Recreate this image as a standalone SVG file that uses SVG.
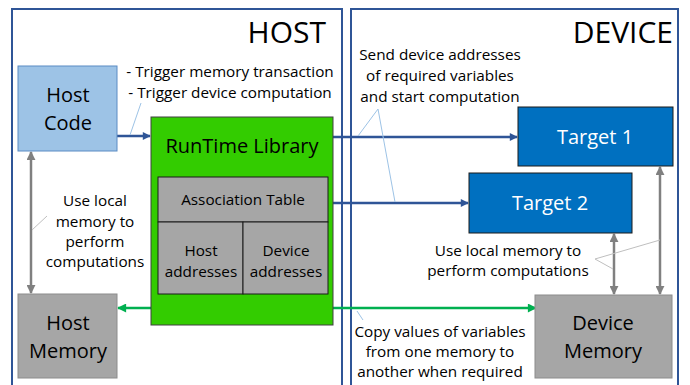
<svg xmlns="http://www.w3.org/2000/svg" width="690" height="385" viewBox="0 0 690 385">
<defs>
<style>
text{font-family:"Open Sans","Liberation Sans",sans-serif;fill:#000;text-anchor:middle}
.frame{fill:none;stroke:#2F5597;stroke-width:2}
.big{font-size:30px;text-anchor:end}
.n20{font-size:20px}
.t15{font-size:15.3px}
.white{fill:#fff}
.blue{stroke:#2F5597;stroke-width:2.5;fill:none}
.gray{stroke:#808080;stroke-width:2.5;fill:none}
.green{stroke:#00B050;stroke-width:2.5;fill:none}
.lead{stroke:#9DC3E6;stroke-width:1;fill:none}
.leadg{stroke:#BFBFBF;stroke-width:1;fill:none}
</style>
<marker id="ab" viewBox="0 0 10 10" refX="9" refY="5" markerWidth="10" markerHeight="8" markerUnits="userSpaceOnUse" orient="auto-start-reverse"><path d="M0,0L10,5L0,10z" fill="#2F5597"/></marker>
<marker id="ag" viewBox="0 0 10 10" refX="9" refY="5" markerWidth="9" markerHeight="9" markerUnits="userSpaceOnUse" orient="auto-start-reverse"><path d="M0,0L10,5L0,10z" fill="#808080"/></marker>
<marker id="agr" viewBox="0 0 10 10" refX="9" refY="5" markerWidth="10" markerHeight="9" markerUnits="userSpaceOnUse" orient="auto-start-reverse"><path d="M0,0L10,5L0,10z" fill="#00B050"/></marker>
</defs>
<rect width="690" height="385" fill="#fff"/>
<g id="host-frame">
<rect class="frame" x="12" y="9" width="330" height="400"/>
<text class="big" x="326" y="43">HOST</text>
</g>
<g id="device-frame">
<rect class="frame" x="351" y="9" width="327" height="400"/>
<text class="big" x="673" y="43">DEVICE</text>
</g>
<g id="connectors">
<line class="blue" x1="117" y1="136" x2="150" y2="136" marker-end="url(#ab)"/>
<line class="blue" x1="333" y1="137" x2="517" y2="137" marker-end="url(#ab)"/>
<line class="blue" x1="328" y1="203" x2="468" y2="203" marker-end="url(#ab)"/>
<line class="gray" x1="31" y1="152" x2="31" y2="293" marker-start="url(#ag)" marker-end="url(#ag)"/>
<line class="gray" x1="614" y1="234" x2="614" y2="294" marker-start="url(#ag)" marker-end="url(#ag)"/>
<line class="gray" x1="660" y1="167" x2="660" y2="294" marker-start="url(#ag)" marker-end="url(#ag)"/>
<line class="green" x1="118" y1="308" x2="536" y2="308" marker-start="url(#agr)" marker-end="url(#agr)"/>
<path class="lead" d="M141,103L130,135"/>
<path class="lead" d="M358,136L378,109L395,202"/>
<path class="leadg" d="M47,216L32,230"/>
<path class="leadg" d="M660,240L595,259L613,269"/>
<path class="lead" d="M357,311L363,320" stroke="#00B050"/>
</g>
<g id="host-code">
<rect x="18" y="66" width="99" height="85" fill="#9DC3E6" stroke="#5B8BC4" stroke-width="1"/>
<text class="n20" x="68" y="102">Host</text>
<text class="n20" x="68" y="130">Code</text>
</g>
<g id="host-memory">
<rect x="18" y="294" width="99" height="84" fill="#A6A6A6" stroke="#8C8C8C" stroke-width="1"/>
<text class="n20" x="68" y="330">Host</text>
<text class="n20" x="68" y="358">Memory</text>
</g>
<g id="runtime-library">
<rect x="151" y="117" width="182" height="208" fill="#33CC00" stroke="#404040" stroke-width="1"/>
<text class="n20" x="242" y="153">RunTime Library</text>
</g>
<g id="association-table">
<rect x="158" y="177" width="170" height="45" fill="#A6A6A6" stroke="#1A1A1A" stroke-width="1"/>
<text class="t15" x="243" y="205">Association Table</text>
</g>
<g id="host-addresses">
<rect x="158" y="222" width="85" height="72" fill="#A6A6A6" stroke="#1A1A1A" stroke-width="1"/>
<text class="t15" x="201" y="256">Host</text>
<text class="t15" x="201" y="277">addresses</text>
</g>
<g id="device-addresses">
<rect x="243" y="222" width="85" height="72" fill="#A6A6A6" stroke="#1A1A1A" stroke-width="1"/>
<text class="t15" x="286" y="256">Device</text>
<text class="t15" x="286" y="277">addresses</text>
</g>
<g id="target-1">
<rect x="518" y="107" width="155" height="59" fill="#0070C0" stroke="#1A1A1A" stroke-width="1"/>
<text class="n20 white" x="595" y="144">Target 1</text>
</g>
<g id="target-2">
<rect x="469" y="173" width="163" height="60" fill="#0070C0" stroke="#1A1A1A" stroke-width="1"/>
<text class="n20 white" x="550" y="210">Target 2</text>
</g>
<g id="device-memory">
<rect x="535" y="295" width="137" height="83" fill="#A6A6A6" stroke="#8C8C8C" stroke-width="1"/>
<text class="n20" x="603" y="330">Device</text>
<text class="n20" x="603" y="358">Memory</text>
</g>
<g id="labels">
<text class="t15" x="230" y="77">- Trigger memory transaction</text>
<text class="t15" x="230" y="98">- Trigger device computation</text>
<text class="t15" x="95" y="206">Use local</text>
<text class="t15" x="95" y="227">memory to</text>
<text class="t15" x="95" y="247">perform</text>
<text class="t15" x="95" y="267">computations</text>
<text class="t15" x="440" y="60">Send device addresses</text>
<text class="t15" x="440" y="81">of required variables</text>
<text class="t15" x="440" y="102">and start computation</text>
<text class="t15" x="508" y="256">Use local memory to</text>
<text class="t15" x="508" y="276">perform computations</text>
<text class="t15" x="440" y="337">Copy values of variables</text>
<text class="t15" x="440" y="357">from one memory to</text>
<text class="t15" x="440" y="377">another when required</text>
</g>
</svg>
